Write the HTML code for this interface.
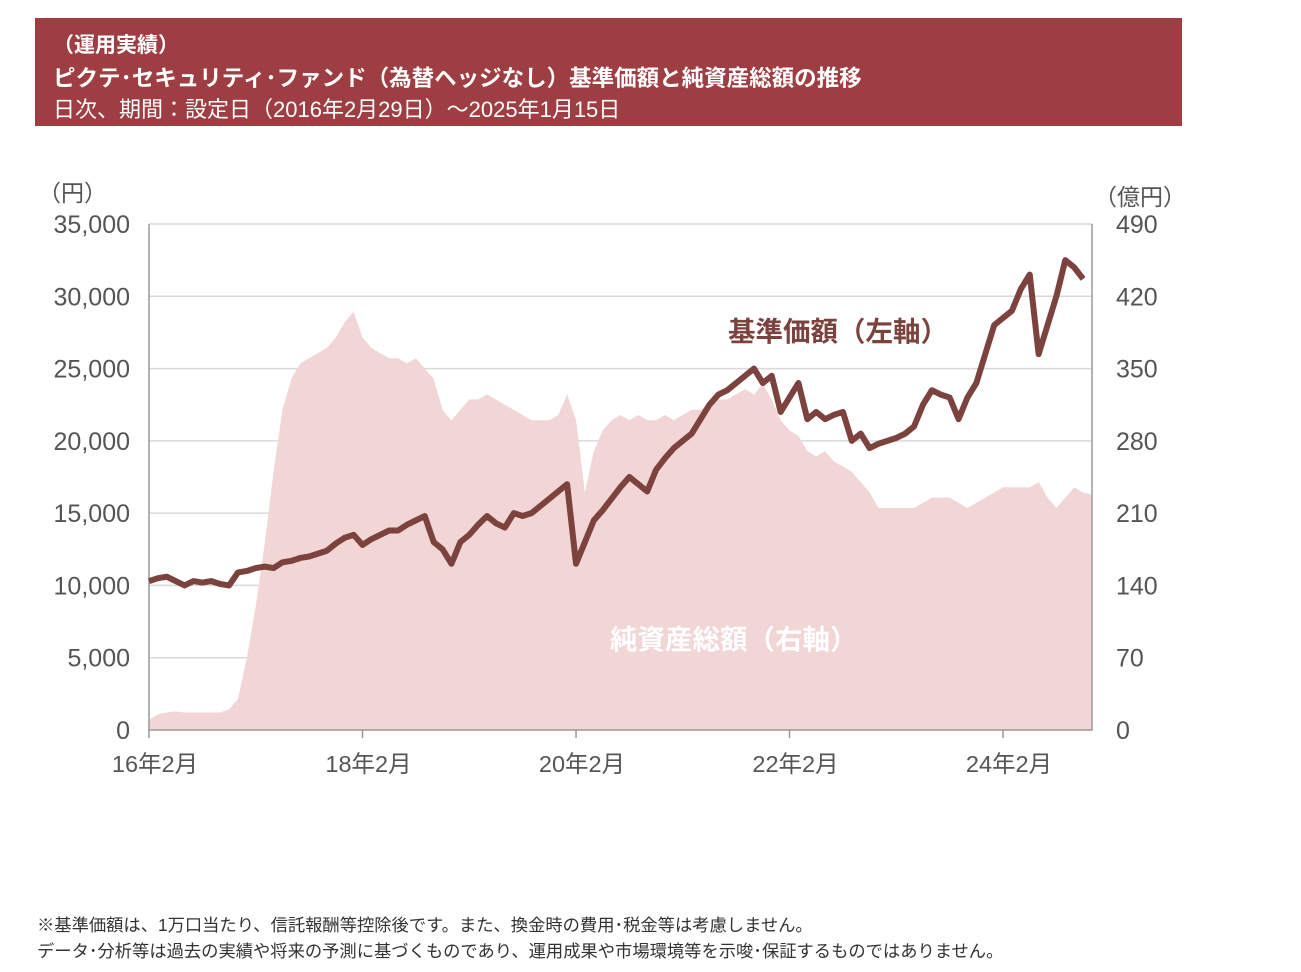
<!DOCTYPE html>
<html><head><meta charset="utf-8"><style>
body{margin:0;width:1301px;height:972px;background:#fff;font-family:"Liberation Sans","Noto Sans CJK JP",sans-serif;position:relative;overflow:hidden}
#hdr{position:absolute;left:35px;top:18px;width:1147px;height:108px;background:#9e3d42;color:#fff}
#hdr div{position:absolute;left:18px;white-space:nowrap}
.fn{position:absolute;left:37px;font-size:17.3px;color:#333;white-space:nowrap}
</style></head><body>
<div id="hdr">
<div style="top:11px;font-size:21px;font-weight:bold">（運用実績）</div>
<div style="top:43px;font-size:22.5px;font-weight:bold">ピクテ･セキュリティ･ファンド（為替ヘッジなし）基準価額と純資産総額の推移</div>
<div style="top:74px;font-size:22px">日次、期間：設定日（2016年2月29日）～2025年1月15日</div>
</div>
<svg id="chart" width="1301" height="972" style="position:absolute;left:0;top:0"></svg>
<div class="fn" style="top:911px">※基準価額は、1万口当たり、信託報酬等控除後です。また、換金時の費用･税金等は考慮しません。</div>
<div class="fn" style="top:937px">データ･分析等は過去の実績や将来の予測に基づくものであり、運用成果や市場環境等を示唆･保証するものではありません。</div>
<script>
const xTickLabels=["16年2月","18年2月","20年2月","22年2月","24年2月"];
const xTickMonths=[0,24,48,72,96];
const leftTicks=[0,5000,10000,15000,20000,25000,30000,35000];
const leftTickLabels=["0","5,000","10,000","15,000","20,000","25,000","30,000","35,000"];
const rightTicks=[0,70,140,210,280,350,420,490];
const nav=[10300,10500,10600,10300,10000,10300,10200,10300,10100,10000,10900,
11000,11200,11300,11200,11600,11700,11900,12000,12200,12400,12900,13300,
13500,12800,13200,13500,13800,13800,14200,14500,14800,13000,12500,11500,
13000,13500,14200,14800,14300,14000,15000,14800,15000,15500,16000,16500,17000,
11500,13000,14500,15200,16000,16800,17500,17000,16500,18000,18800,
19500,20000,20500,21500,22500,23200,23500,24000,24500,25000,24000,24500,
22000,23000,24000,21500,22000,21500,21800,22000,20000,20500,19500,19800,
20000,20200,20500,21000,22500,23500,23200,23000,21500,23000,24000,26000,
28000,28500,29000,30500,31500,26000,28000,30000,32500,32000,31200];
const aum=[10,15,17,18,17,17,17,17,17,20,30,70,120,180,250,310,340,355,360,365,370,380,395,405,
380,370,365,360,360,355,360,350,340,310,300,310,320,320,325,320,315,310,305,300,300,300,305,325,
300,230,270,290,300,305,300,305,300,300,305,300,305,310,310,315,320,320,325,330,325,335,320,300,
290,285,270,265,270,260,255,250,240,230,215,215,215,215,215,220,225,225,225,220,215,220,225,230,
235,235,235,235,240,225,215,225,235,230,228];
const NS="http://www.w3.org/2000/svg",svg=document.getElementById('chart');
const X0=149,X1=1092,Y0=730,Y1=224,months=106;
const x=i=>X0+(X1-X0)*i/months, yL=v=>Y0-(Y0-Y1)*v/35000, yR=v=>Y0-(Y0-Y1)*v/490;
function mk(t,a,p){const e=document.createElementNS(NS,t);for(const k in a)e.setAttribute(k,a[k]);(p||svg).appendChild(e);return e;}
for(const v of leftTicks){if(v===0)continue;const g=mk('line',{x1:X0,x2:X1,y1:yL(v),y2:yL(v),stroke:'#d9d9d9','stroke-width':1.5});

}
let d=`M${x(0)},${Y0}`;aum.forEach((v,i)=>d+=`L${x(i)},${yR(v)}`);d+=`L${x(aum.length-1)},${Y0}Z`;
const area=mk('path',{d:d,fill:'#f2d5d5'});


const ax=mk('path',{d:`M${X0},${Y1}V${Y0}H${X1}V${Y1}`,fill:'none',stroke:'#999','stroke-width':1.5});


let ld='';nav.forEach((v,i)=>ld+=(i?'L':'M')+x(i)+','+yL(v));
const line=mk('path',{d:ld,fill:'none',stroke:'#7b423e','stroke-width':6,'stroke-linejoin':'round'});


leftTicks.forEach((v,i)=>{const t=mk('text',{x:130,y:yL(v)+9,'text-anchor':'end','font-size':25,fill:'#555'});t.textContent=leftTickLabels[i];

});
rightTicks.forEach(v=>{const t=mk('text',{x:1116,y:yR(v)+9,'font-size':25,fill:'#555'});t.textContent=v;

});
xTickMonths.forEach((m,i)=>{const k=mk('line',{x1:x(m),x2:x(m),y1:Y0,y2:Y0+8,stroke:'#999','stroke-width':1.5});


const t=mk('text',{x:x(m)+6,y:772,'text-anchor':'middle','font-size':23.5,fill:'#555'});t.textContent=xTickLabels[i];

});
function lab(s,xx,yy,a,fs,fill,w,name){const t=mk('text',{x:xx,y:yy,'text-anchor':a,'font-size':fs,fill:fill,'font-weight':w});t.textContent=s;

}
lab('（円）',38,201,'start',23,'#555','normal','left-axis-unit');
lab('（億円）',1094,205,'start',23,'#555','normal','right-axis-unit');
lab('基準価額（左軸）',728,341,'start',27.5,'#7b423e','bold','nav-annotation');
lab('純資産総額（右軸）',610,649,'start',27.5,'#ffffff','bold','aum-annotation');
</script>
</body></html>
